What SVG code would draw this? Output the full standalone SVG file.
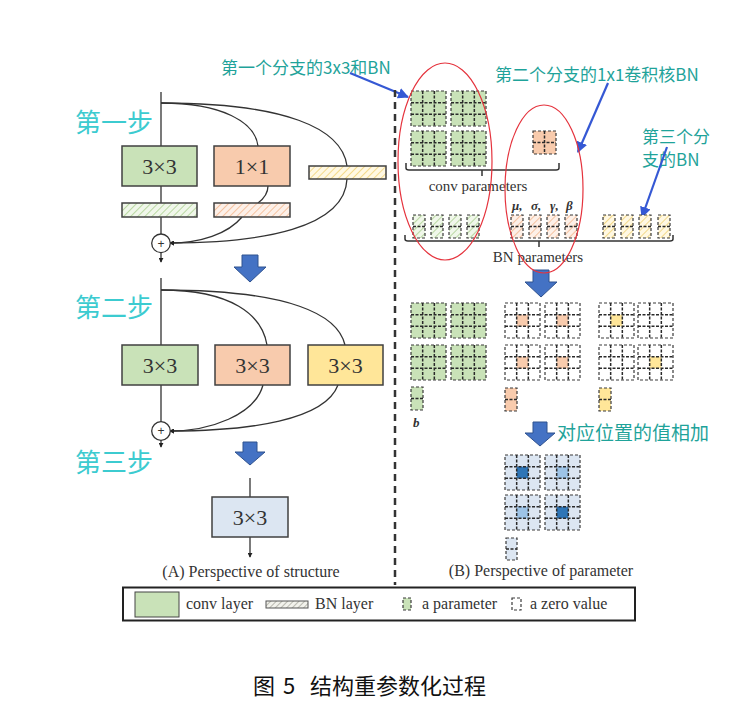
<svg xmlns="http://www.w3.org/2000/svg" xmlns:xlink="http://www.w3.org/1999/xlink" width="742" height="719" viewBox="0 0 742 719">
<style>
.box{stroke:#404040;stroke-width:1.5}
.ln{fill:none;stroke:#333;stroke-width:1.3}
.lbl{font-family:"Liberation Serif","Times New Roman",serif;font-size:22px;fill:#333;text-anchor:middle}
.step{font-family:"Noto Sans CJK SC",sans-serif;font-size:26px;fill:#3ccbd0}
.ann{font-family:"Noto Sans CJK SC",sans-serif;font-size:17px;fill:#1fa39a}
.cap{font-family:"Liberation Serif",serif;font-size:16px;fill:#333}
.grk{font-family:"Liberation Serif",serif;font-size:13px;font-weight:bold;font-style:italic;fill:#333}
.gd{fill:none;stroke:#3a3a3a;stroke-width:1.2;stroke-dasharray:3 2}
.gi{fill:none;stroke:#2a2a2a;stroke-width:1.5;stroke-dasharray:3 1.5}
.ell{fill:none;stroke:#e5333d;stroke-width:1.2}
.bl{stroke:#3558d4;stroke-width:2.2;fill:none}
.fat{fill:#4472c4;stroke:#2f528f;stroke-width:1}
.brace{fill:none;stroke:#333;stroke-width:1.5}
.g{fill:#c9e2b8}.o{fill:#f8cbad}.y{fill:#ffe699}.lb{fill:#dce6f2}
</style>
<defs>
<marker id="ah" viewBox="0 0 6 6" refX="5" refY="3" markerWidth="5" markerHeight="5" markerUnits="userSpaceOnUse" orient="auto"><path d="M0,0 L6,3 L0,6 z" fill="#222"/></marker>
<marker id="bh" viewBox="0 0 10 10" refX="9" refY="5" markerWidth="11" markerHeight="11" markerUnits="userSpaceOnUse" orient="auto"><path d="M0,0 L10,5 L0,10 z" fill="#3558d4"/></marker>
<pattern id="hg" width="5" height="5" patternUnits="userSpaceOnUse" patternTransform="rotate(45)"><rect width="5" height="5" fill="#f0f7ea"/><line x1="0" y1="0" x2="0" y2="5" stroke="#b9d8a2" stroke-width="2"/></pattern>
<pattern id="ho" width="5" height="5" patternUnits="userSpaceOnUse" patternTransform="rotate(45)"><rect width="5" height="5" fill="#fdf0e8"/><line x1="0" y1="0" x2="0" y2="5" stroke="#f5c2a0" stroke-width="2"/></pattern>
<pattern id="hy" width="5" height="5" patternUnits="userSpaceOnUse" patternTransform="rotate(45)"><rect width="5" height="5" fill="#fff8e3"/><line x1="0" y1="0" x2="0" y2="5" stroke="#f3d98a" stroke-width="2"/></pattern>
<pattern id="hk" width="4" height="4" patternUnits="userSpaceOnUse" patternTransform="rotate(45)"><rect width="4" height="4" fill="#f2f2ec"/><line x1="0" y1="0" x2="0" y2="4" stroke="#9a9a90" stroke-width="1.3"/></pattern>
<g id="k3"><rect width="35" height="35" class="gd"/><path class="gi" d="M11.67,0V35M23.33,0V35M0,11.67H35M0,23.33H35"/></g>
<g id="k2"><rect width="23" height="23" class="gd"/><path class="gi" d="M11.5,0V23M0,11.5H23"/></g>
<g id="k1"><rect width="12" height="23" class="gd"/><path class="gi" d="M0,11.5H12"/></g>
</defs>
<rect width="742" height="719" fill="#fff"/>

<!-- step labels -->
<g id="labels">
<text class="step" x="75" y="132">第一步</text>
<text class="step" x="75" y="317">第二步</text>
<text class="step" x="75" y="472">第三步</text>
<text class="ann" x="221" y="74">第一个分支的3x3和BN</text>
<text class="ann" x="495" y="81">第二个分支的1x1卷积核BN</text>
<text class="ann" x="642" y="143">第三个分</text>
<text class="ann" x="642" y="166">支的BN</text>
<text class="ann" x="557" y="440" style="font-size:19px">对应位置的值相加</text>
</g>

<!-- connectors -->
<g id="connectors">
<path class="ln" d="M161,92V146M161,186V203M161,217V234"/>
<path class="ln" d="M161,252.5V262" marker-end="url(#ah)"/>
<path class="ln" d="M161,103C222,103 255,122 258,146"/>
<path class="ln" d="M161,103C285,103 342,128 347,166"/>
<path class="ln" d="M268,186C268,195 262,200 258,203"/>
<path class="ln" d="M242,217C228,234 200,243 170,243" marker-end="url(#ah)"/>
<path class="ln" d="M347,179C345,228 262,243 170,243" marker-end="url(#ah)"/>

<path class="ln" d="M161,278V345M161,385V422"/>
<path class="ln" d="M161,440V447" marker-end="url(#ah)"/>
<path class="ln" d="M161,290C232,290 262,315 267,345"/>
<path class="ln" d="M161,290C292,290 338,315 345,345"/>
<path class="ln" d="M263,385C255,415 210,431 170,431" marker-end="url(#ah)"/>
<path class="ln" d="M338,385C325,420 250,431 170,431" marker-end="url(#ah)"/>

<path class="ln" d="M250,478V497"/>
<path class="ln" d="M250,537V557" marker-end="url(#ah)"/>

<path class="bl" d="M350,73L408,97" marker-end="url(#bh)"/>
<path class="bl" d="M608,83L578,152" marker-end="url(#bh)"/>
<path class="bl" d="M667,147L642,217" marker-end="url(#bh)"/>

<path class="fat" d="M242,255H258V267H266L250,282L234,267H242Z"/>
<path class="fat" d="M243,442H257V452H265L250,465L235,452H243Z"/>
<path class="fat" d="M533,270H549V282H557L541,297L525,282H533Z"/>
<path class="fat" d="M533,422H547V433H555L540,446L525,433H533Z"/>
</g>

<!-- divider -->
<line x1="395" y1="90" x2="395" y2="585" stroke="#333" stroke-width="2.5" stroke-dasharray="7 5"/>

<!-- step 1 nodes -->
<g id="s1-conv3">
<rect class="box g" x="122" y="146" width="75" height="40"/>
<text class="lbl" x="159.5" y="173.5">3×3</text>
</g>
<g id="s1-conv1">
<rect class="box o" x="214" y="146" width="76" height="40"/>
<text class="lbl" x="252" y="173.5">1×1</text>
</g>
<g id="s1-bn-id"><rect class="box" x="309" y="166" width="77" height="13" fill="url(#hy)"/></g>
<g id="s1-bn3"><rect class="box" x="122" y="203" width="75" height="14" fill="url(#hg)"/></g>
<g id="s1-bn1"><rect class="box" x="214" y="203" width="76" height="14" fill="url(#ho)"/></g>
<g id="s1-add"><circle cx="161" cy="243.3" r="9.3" fill="#fff" stroke="#333" stroke-width="1.3"/><text x="161" y="247.5" text-anchor="middle" font-family="Liberation Sans,sans-serif" font-size="12" fill="#333">+</text></g>

<!-- step 2 nodes -->
<g id="s2-a"><rect class="box g" x="122" y="345" width="76" height="40"/><text class="lbl" x="160" y="372.5">3×3</text></g>
<g id="s2-b"><rect class="box o" x="215" y="345" width="75" height="40"/><text class="lbl" x="252.5" y="372.5">3×3</text></g>
<g id="s2-c"><rect class="box y" x="308" y="345" width="75" height="40"/><text class="lbl" x="345.5" y="372.5">3×3</text></g>
<g id="s2-add"><circle cx="161" cy="431" r="9.3" fill="#fff" stroke="#333" stroke-width="1.3"/><text x="161" y="435.2" text-anchor="middle" font-family="Liberation Sans,sans-serif" font-size="12" fill="#333">+</text></g>

<!-- step 3 node -->
<g id="s3"><rect class="box lb" x="212" y="497" width="76" height="40"/><text class="lbl" x="250" y="524.5">3×3</text></g>

<text class="cap" x="251" y="577" text-anchor="middle">(A) Perspective of structure</text>

<!-- right: step 1 params -->
<g id="p1-conv">
<rect class="g" x="411" y="91" width="35" height="35"/><use xlink:href="#k3" x="411" y="91"/>
<rect class="g" x="451" y="91" width="35" height="35"/><use xlink:href="#k3" x="451" y="91"/>
<rect class="g" x="411" y="131" width="35" height="35"/><use xlink:href="#k3" x="411" y="131"/>
<rect class="g" x="451" y="131" width="35" height="35"/><use xlink:href="#k3" x="451" y="131"/>
<rect class="o" x="533" y="131" width="23" height="23"/><use xlink:href="#k2" x="533" y="131"/>
<path class="brace" d="M406,163V168Q406,170 409,170H556Q559,170 559,168V163M482,170V176"/>
<text class="cap" x="478" y="191" text-anchor="middle" style="font-size:15px">conv parameters</text>
</g>
<g id="p1-bn">
<rect x="413" y="215" width="12" height="23" fill="url(#hg)"/><use xlink:href="#k1" x="413" y="215"/>
<rect x="431" y="215" width="12" height="23" fill="url(#hg)"/><use xlink:href="#k1" x="431" y="215"/>
<rect x="449" y="215" width="12" height="23" fill="url(#hg)"/><use xlink:href="#k1" x="449" y="215"/>
<rect x="467" y="215" width="12" height="23" fill="url(#hg)"/><use xlink:href="#k1" x="467" y="215"/>
<rect x="511" y="215" width="12" height="23" fill="url(#ho)"/><use xlink:href="#k1" x="511" y="215"/>
<rect x="529" y="215" width="12" height="23" fill="url(#ho)"/><use xlink:href="#k1" x="529" y="215"/>
<rect x="547" y="215" width="12" height="23" fill="url(#ho)"/><use xlink:href="#k1" x="547" y="215"/>
<rect x="565" y="215" width="12" height="23" fill="url(#ho)"/><use xlink:href="#k1" x="565" y="215"/>
<rect x="603" y="215" width="12" height="23" fill="url(#hy)"/><use xlink:href="#k1" x="603" y="215"/>
<rect x="621" y="215" width="12" height="23" fill="url(#hy)"/><use xlink:href="#k1" x="621" y="215"/>
<rect x="639" y="215" width="12" height="23" fill="url(#hy)"/><use xlink:href="#k1" x="639" y="215"/>
<rect x="658" y="215" width="12" height="23" fill="url(#hy)"/><use xlink:href="#k1" x="658" y="215"/>
<text class="grk" x="512" y="210">μ,</text>
<text class="grk" x="531" y="210">σ,</text>
<text class="grk" x="550" y="210">γ,</text>
<text class="grk" x="566" y="210">β</text>
<path class="brace" d="M405,235V239Q405,241 408,241H670Q673,241 673,239V235M539,241V247"/>
<text class="cap" x="538" y="262" text-anchor="middle" style="font-size:15px">BN parameters</text>
</g>
<ellipse class="ell" cx="445" cy="161.5" rx="47" ry="98.5"/>
<ellipse class="ell" cx="544" cy="189" rx="39" ry="84"/>

<!-- right: step 2 params -->
<g id="p2-green">
<rect class="g" x="411" y="303" width="35" height="35"/><use xlink:href="#k3" x="411" y="303"/>
<rect class="g" x="451" y="303" width="35" height="35"/><use xlink:href="#k3" x="451" y="303"/>
<rect class="g" x="411" y="345" width="35" height="35"/><use xlink:href="#k3" x="411" y="345"/>
<rect class="g" x="451" y="345" width="35" height="35"/><use xlink:href="#k3" x="451" y="345"/>
<rect class="g" x="411" y="387" width="12" height="23"/><use xlink:href="#k1" x="411" y="387"/>
<text class="grk" x="413" y="427">b</text>
</g>
<g id="p2-orange">
<rect class="o" x="516.67" y="314.67" width="11.67" height="11.67"/><use xlink:href="#k3" x="505" y="303"/>
<rect class="o" x="556.67" y="314.67" width="11.67" height="11.67"/><use xlink:href="#k3" x="545" y="303"/>
<rect class="o" x="516.67" y="356.67" width="11.67" height="11.67"/><use xlink:href="#k3" x="505" y="345"/>
<rect class="o" x="556.67" y="356.67" width="11.67" height="11.67"/><use xlink:href="#k3" x="545" y="345"/>
<rect class="o" x="505" y="388" width="12" height="23"/><use xlink:href="#k1" x="505" y="388"/>
</g>
<g id="p2-yellow">
<rect class="y" x="610.67" y="314.67" width="11.67" height="11.67"/><use xlink:href="#k3" x="599" y="303"/>
<use xlink:href="#k3" x="638" y="303"/>
<use xlink:href="#k3" x="599" y="345"/>
<rect class="y" x="649.67" y="356.67" width="11.67" height="11.67"/><use xlink:href="#k3" x="638" y="345"/>
<rect class="y" x="599" y="388" width="12" height="23"/><use xlink:href="#k1" x="599" y="388"/>
</g>

<!-- right: step 3 params -->
<g id="p3">
<rect class="lb" x="505" y="455" width="35" height="35"/><rect fill="#2e75b6" x="516.67" y="466.67" width="11.67" height="11.67"/><use xlink:href="#k3" x="505" y="455"/>
<rect class="lb" x="545" y="455" width="35" height="35"/><rect fill="#9dc3e6" x="556.67" y="466.67" width="11.67" height="11.67"/><use xlink:href="#k3" x="545" y="455"/>
<rect class="lb" x="505" y="495" width="35" height="35"/><rect fill="#9dc3e6" x="516.67" y="506.67" width="11.67" height="11.67"/><use xlink:href="#k3" x="505" y="495"/>
<rect class="lb" x="545" y="495" width="35" height="35"/><rect fill="#2e75b6" x="556.67" y="506.67" width="11.67" height="11.67"/><use xlink:href="#k3" x="545" y="495"/>
<rect class="lb" x="506" y="538" width="11" height="22"/><rect class="gd" x="506" y="538" width="11" height="22"/><path class="gi" d="M506,549H517"/>
</g>

<text class="cap" x="541" y="576" text-anchor="middle">(B) Perspective of parameter</text>

<!-- legend -->
<g id="legend">
<rect x="123" y="587.5" width="512" height="33" fill="#fff" stroke="#222" stroke-width="2"/>
<rect class="g" x="135" y="592" width="44" height="25" stroke="#444" stroke-width="1"/>
<text class="cap" x="186" y="609">conv layer</text>
<rect x="266" y="601" width="42" height="7" fill="url(#hk)" stroke="#555" stroke-width="1"/>
<text class="cap" x="315" y="609">BN layer</text>
<rect class="g" x="403" y="598" width="8" height="12"/><rect class="gd" x="403" y="598" width="8" height="12"/>
<text class="cap" x="422" y="609">a parameter</text>
<rect class="gd" x="512" y="598" width="9" height="12"/>
<text class="cap" x="530" y="609">a zero value</text>
</g>

<text font-family="Noto Sans CJK SC,sans-serif" font-size="22" fill="#111" y="694"><tspan x="253">图</tspan><tspan x="283">5</tspan><tspan x="310">结构重参数化过程</tspan></text>
</svg>
